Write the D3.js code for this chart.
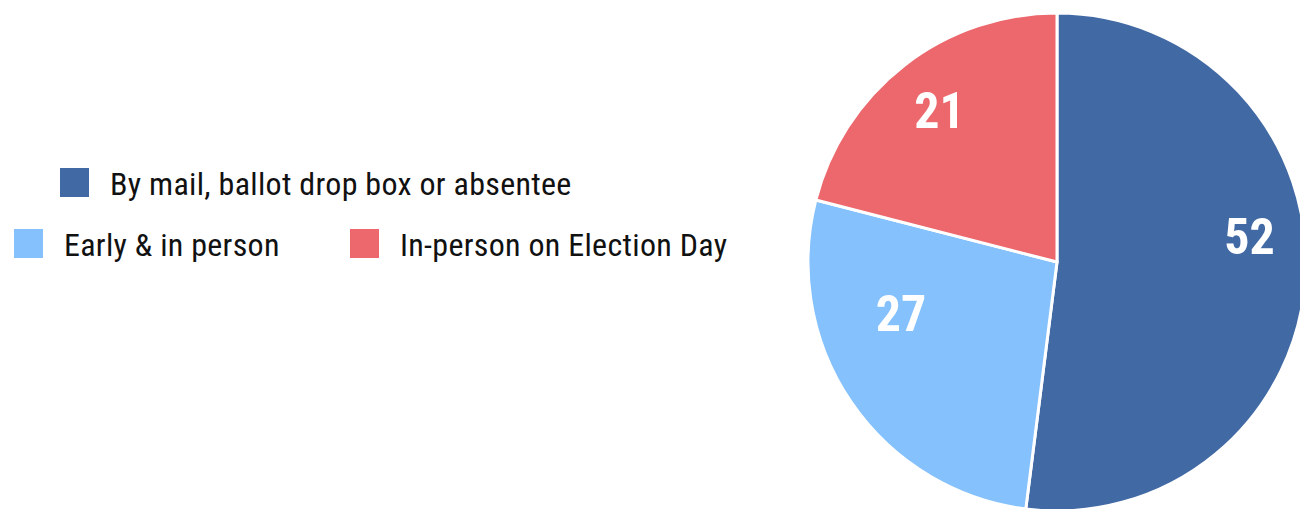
<!DOCTYPE html>
<html>
<head>
<meta charset="utf-8">
<script src="https://cdn.jsdelivr.net/npm/d3@7"></script>
<style>
  html, body { margin: 0; padding: 0; background: #fff; }
  svg { display: block; }
</style>
</head>
<body>
<svg id="chart" width="1300" height="509"></svg>
<script>
// ---- data ----
const categories = ["By mail, ballot drop box or absentee", "Early & in person", "In-person on Election Day"];
const values = [52, 27, 21];
const colors = ["#4169A4", "#85C1FC", "#EC686D"];

// ---- layout ----
const W = 1300, H = 509;
const cx = 1057, cy = 262, R = 249;
const font = "'Liberation Sans Narrow', 'Roboto Condensed', 'Arial Narrow', sans-serif";
// label placement tweaks (angle shift in degrees, radius fraction)
const labelShift = [-11, 15.8, 0];
const labelRad = [0.78, 0.66, 0.77];

const svg = d3.select("#chart");

const pie = d3.pie().sort(null).value(d => d)(values);
const arc = d3.arc().innerRadius(0).outerRadius(R);

const g = svg.append("g").attr("transform", `translate(${cx},${cy})`);
g.selectAll("path").data(pie).join("path")
  .attr("d", arc)
  .attr("fill", (d, i) => colors[i])
  .attr("stroke", "#fff")
  .attr("stroke-width", 3)
  .attr("stroke-linejoin", "round");

g.selectAll("text").data(pie).join("text")
  .attr("x", (d, i) => {
    const a = (d.startAngle + d.endAngle) / 2 + labelShift[i] * Math.PI / 180;
    return Math.sin(a) * R * labelRad[i];
  })
  .attr("y", (d, i) => {
    const a = (d.startAngle + d.endAngle) / 2 + labelShift[i] * Math.PI / 180;
    return -Math.cos(a) * R * labelRad[i];
  })
  .attr("text-anchor", "middle")
  .attr("dominant-baseline", "central")
  .attr("fill", "#fff")
  .attr("font-family", font)
  .attr("font-weight", "bold")
  .attr("font-size", 50)
  .text(d => d.data);

// ---- legend ----
const legendPos = [
  { x: 60, y: 168 },
  { x: 14, y: 229 },
  { x: 350, y: 229 }
];
const lg = svg.append("g");
const items = lg.selectAll("g").data(categories).join("g")
  .attr("transform", (d, i) => `translate(${legendPos[i].x},${legendPos[i].y})`);
items.append("rect")
  .attr("width", 29).attr("height", 29)
  .attr("fill", (d, i) => colors[i]);
items.append("text")
  .attr("x", 50)
  .attr("y", 27)
  .attr("fill", "#111")
  .attr("font-family", font)
  .attr("font-size", 32)
  .attr("letter-spacing", 0.3)
  .text(d => d);
</script>
</body>
</html>
